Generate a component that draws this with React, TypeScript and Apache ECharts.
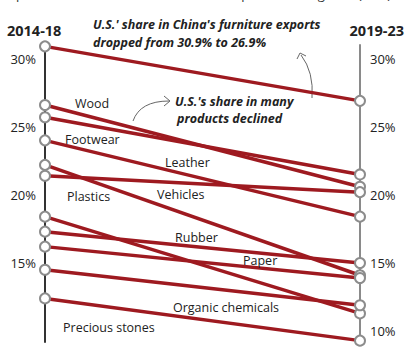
import React, { useEffect, useRef } from 'react';
import * as echarts from 'echarts';

const periods = ['2014-18', '2019-23'];
const products = ['Furniture', 'Wood', 'Leather', 'Footwear', 'Vehicles', 'Plastics', 'Rubber', 'Paper', 'Other', 'Organic chemicals', 'Precious stones'];
const share2014_18 = [30.9, 26.6, 25.7, 24.0, 22.2, 21.4, 18.4, 17.3, 16.2, 14.5, 12.4];
const share2019_23 = [26.9, 20.6, 21.5, 18.4, 14.1, 20.2, 11.3, 15.0, 13.9, 11.9, 9.3];
const leftTicks = [15, 20, 25, 30];
const rightTicks = [10, 15, 20, 25, 30];
const lineLabels = ['Wood', 'Footwear', 'Leather', 'Plastics', 'Vehicles', 'Rubber', 'Paper', 'Organic chemicals', 'Precious stones'];

const RED = '#9e1a20';
const FONT = '"Open Sans", sans-serif';
const NOTE_FONT = `italic bold 12.5px ${FONT}`;

export default function App() {
  const ref = useRef<HTMLDivElement>(null);
  useEffect(() => {
    if (!ref.current) return;
    const chart = echarts.init(ref.current, null, { renderer: 'svg' });
    const labelPos: Record<string, [number, number]> = {
      'Wood': [75, 103],
      'Footwear': [65, 139],
      'Leather': [165, 162],
      'Plastics': [67, 196],
      'Vehicles': [157, 194],
      'Rubber': [175, 237],
      'Paper': [243, 260],
      'Organic chemicals': [173, 307],
      'Precious stones': [63, 327],
    };
    const yBase = {
      type: 'value',
      min: 9.2,
      max: 31,
      splitLine: { show: false },
      axisTick: { show: false },
    };
    chart.setOption({
      animation: false,
      backgroundColor: '#fff',
      grid: { left: 45, right: 47, top: 45, bottom: 13 },
      xAxis: { type: 'category', data: periods, boundaryGap: false, show: false },
      yAxis: [
        {
          ...yBase,
          position: 'left',
          axisLine: { show: true, lineStyle: { color: '#333', width: 2 } },
          axisLabel: {
            customValues: leftTicks,
            formatter: (v: number) => v + '%',
            color: '#222',
            fontSize: 13,
            fontFamily: FONT,
            margin: 9,
          },
        },
        {
          ...yBase,
          position: 'right',
          axisLine: { show: true, lineStyle: { color: '#8a8a8a', width: 2 } },
          axisLabel: {
            customValues: rightTicks,
            formatter: (v: number) => v + '%',
            color: '#222',
            fontSize: 13,
            fontFamily: FONT,
            margin: 10,
          },
        },
      ],
      series: products.map((name, i) => ({
        name,
        type: 'line',
        data: [share2014_18[i], share2019_23[i]],
        symbol: 'circle',
        symbolSize: 10,
        itemStyle: { color: '#fff', borderColor: '#8c8c8c', borderWidth: 2 },
        lineStyle: { color: RED, width: 3.5 },
        z: 3,
      })),
      graphic: [
        {
          type: 'text', left: 2, top: -13,
          style: { text: "Exports from China to the U.S. in select product categories (in %)", font: `13px ${FONT}`, fill: '#333' },
        },
        {
          type: 'text', x: 7, y: 30,
          style: { text: periods[0], font: `bold 14.5px ${FONT}`, fill: '#222', verticalAlign: 'middle' },
        },
        {
          type: 'text', x: 404, y: 30,
          style: { text: periods[1], font: `bold 14.5px ${FONT}`, fill: '#222', align: 'right', verticalAlign: 'middle' },
        },
        {
          type: 'text', x: 93, y: 24,
          style: { text: "U.S.' share in China's furniture exports", font: NOTE_FONT, fill: '#222', verticalAlign: 'middle' },
        },
        {
          type: 'text', x: 93, y: 42,
          style: { text: 'dropped from 30.9% to 26.9%', font: NOTE_FONT, fill: '#222', verticalAlign: 'middle' },
        },
        {
          type: 'text', x: 175, y: 101,
          style: { text: "U.S.'s share in many", font: NOTE_FONT, fill: '#222', verticalAlign: 'middle' },
        },
        {
          type: 'text', x: 177, y: 118,
          style: { text: 'products declined', font: NOTE_FONT, fill: '#222', verticalAlign: 'middle' },
        },
        {
          type: 'bezierCurve',
          shape: { x1: 312, y1: 98, cpx1: 314, cpy1: 72, x2: 301, y2: 55 },
          style: { stroke: '#666', lineWidth: 1, fill: 'none' },
        },
        {
          type: 'polyline',
          shape: { points: [[297, 59], [300, 53], [306, 56]] },
          style: { stroke: '#666', lineWidth: 1, fill: 'none' },
        },
        {
          type: 'bezierCurve',
          shape: { x1: 133, y1: 121, cpx1: 140, cpy1: 101, x2: 169, y2: 101 },
          style: { stroke: '#666', lineWidth: 1, fill: 'none' },
        },
        {
          type: 'polyline',
          shape: { points: [[164, 96], [170, 101], [164, 106]] },
          style: { stroke: '#666', lineWidth: 1, fill: 'none' },
        },
        ...lineLabels.map((t) => ({
          type: 'text',
          x: labelPos[t][0],
          y: labelPos[t][1],
          z: 10,
          style: { text: t, font: `12.5px ${FONT}`, fill: '#222', verticalAlign: 'middle' },
        })),
      ],
    });
    return () => chart.dispose();
  }, []);
  return <div ref={ref} style={{ position: 'fixed', left: 0, top: 0, width: 407, height: 355 }} />;
}
